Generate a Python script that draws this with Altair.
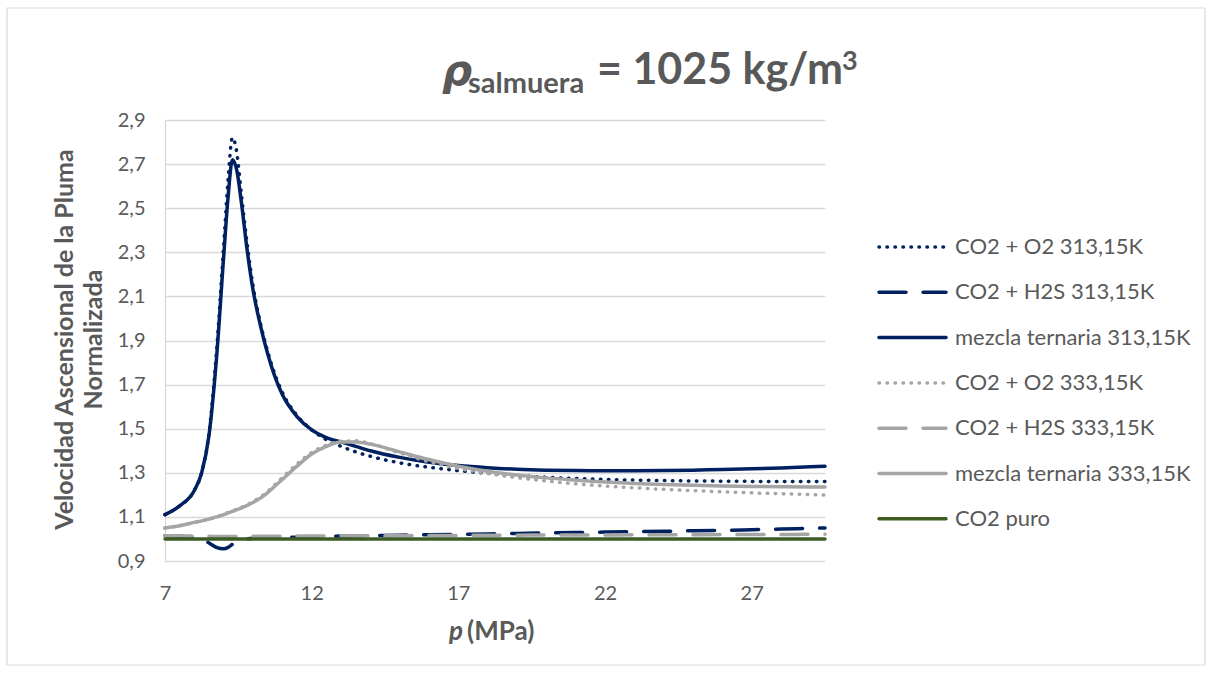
import altair as alt
import pandas as pd

# Pressure grid (MPa) shared by the six mixture curves
PRESSURE = [7.0, 7.5, 8.0, 8.25, 8.5, 8.75, 9.0, 9.15, 9.3, 9.45, 9.6, 9.8, 10.0,
            10.25, 10.5, 10.75, 11.0, 11.5, 12.0, 12.5, 13.0, 13.5, 14.0, 15.0,
            16.0, 17.0, 18.0, 19.0, 20.0, 21.0, 22.0, 23.0, 24.0, 25.0, 26.0,
            27.0, 28.0, 29.0, 29.5]

# Normalized plume rise velocity for each mixture
O2_313 = [1.11, 1.15, 1.22, 1.30, 1.48, 1.84, 2.33, 2.63, 2.82, 2.75, 2.57, 2.34, 2.15,
          1.98, 1.85, 1.745, 1.665, 1.56, 1.495, 1.45, 1.42, 1.395, 1.375, 1.345,
          1.325, 1.31, 1.298, 1.288, 1.28, 1.274, 1.27, 1.267, 1.265, 1.263, 1.262,
          1.261, 1.26, 1.26, 1.26]
H2S_313 = [1.015, 1.012, 1.008, 1.0, 0.982, 0.962, 0.955, 0.962, 0.976, 0.99, 0.998, 1.001, 1.003,
           1.004, 1.005, 1.006, 1.007, 1.008, 1.01, 1.011, 1.013, 1.014, 1.015, 1.017,
           1.019, 1.021, 1.023, 1.025, 1.027, 1.029, 1.031, 1.033, 1.035, 1.037, 1.039,
           1.042, 1.045, 1.048, 1.05]
TERN_313 = [1.11, 1.15, 1.22, 1.30, 1.47, 1.81, 2.28, 2.55, 2.72, 2.67, 2.53, 2.31, 2.13,
            1.97, 1.84, 1.735, 1.655, 1.555, 1.495, 1.46, 1.44, 1.42, 1.40, 1.37,
            1.348, 1.333, 1.323, 1.316, 1.312, 1.31, 1.309, 1.309, 1.31, 1.312, 1.315,
            1.318, 1.322, 1.327, 1.33]
O2_333 = [1.05, 1.06, 1.075, 1.082, 1.09, 1.10, 1.112, 1.12, 1.127, 1.135, 1.143, 1.155, 1.17,
          1.19, 1.216, 1.247, 1.278, 1.34, 1.392, 1.425, 1.443, 1.445, 1.432, 1.39,
          1.35, 1.32, 1.297, 1.278, 1.263, 1.25, 1.24, 1.232, 1.225, 1.219, 1.214,
          1.209, 1.205, 1.201, 1.199]
H2S_333 = [1.015, 1.014, 1.013, 1.012, 1.012, 1.011, 1.011, 1.011, 1.011, 1.011, 1.011, 1.012, 1.012,
           1.012, 1.012, 1.012, 1.013, 1.013, 1.013, 1.014, 1.014, 1.014, 1.015, 1.015,
           1.016, 1.016, 1.017, 1.017, 1.018, 1.018, 1.018, 1.019, 1.019, 1.019, 1.02,
           1.02, 1.02, 1.021, 1.021]
TERN_333 = [1.05, 1.06, 1.075, 1.082, 1.09, 1.10, 1.11, 1.118, 1.125, 1.133, 1.14, 1.152, 1.165,
            1.185, 1.21, 1.24, 1.27, 1.33, 1.385, 1.42, 1.44, 1.44, 1.43, 1.395,
            1.36, 1.33, 1.307, 1.29, 1.277, 1.267, 1.258, 1.252, 1.247, 1.243, 1.24,
            1.238, 1.237, 1.236, 1.236]
# Pure CO2 is the reference (normalized to 1)
PURE_P = [7.0, 29.5]
PURE = [1.0, 1.0]

NAMES = ["CO2 + O2 313,15K", "CO2 + H2S 313,15K", "mezcla ternaria 313,15K",
         "CO2 + O2 333,15K", "CO2 + H2S 333,15K", "mezcla ternaria 333,15K",
         "CO2 puro"]

X_TICKS = [7, 12, 17, 22, 27]
Y_TICKS = [0.9, 1.1, 1.3, 1.5, 1.7, 1.9, 2.1, 2.3, 2.5, 2.7, 2.9]

NAVY = "#002060"
GRAY = "#A5A5A5"
GREEN = "#3D5C24"
TXT = "#595959"
GRID = "#D9D9D9"
FONT = "Lato"

DOT = [0.5, 7.5]
DASH = [27, 17]

# (pressure, values, colour, dash pattern or None, line width)
SERIES = [
    (PRESSURE, O2_313, NAVY, DOT, 3.5),
    (PRESSURE, H2S_313, NAVY, DASH, 3.5),
    (PRESSURE, TERN_313, NAVY, None, 3.5),
    (PRESSURE, O2_333, GRAY, DOT, 3.5),
    (PRESSURE, H2S_333, GRAY, DASH, 3.5),
    (PRESSURE, TERN_333, GRAY, None, 3.5),
    (PURE_P, PURE, GREEN, None, 3.5),
]

W, H = 660, 441
PAD = {"left": 165, "top": 120, "right": 387, "bottom": 112}

x_scale = alt.Scale(domain=[7, 29.5], nice=False, zero=False)
y_scale = alt.Scale(domain=[0.9, 2.9], nice=False, zero=False)

x_axis = alt.Axis(values=X_TICKS, title=None, grid=False, domain=False, ticks=False,
                  labelFont=FONT, labelFontSize=20, labelColor=TXT, labelPadding=22,
                  labelFlush=False)
y_axis = alt.Axis(values=Y_TICKS,
                  labelExpr="replace(format(datum.value, '.1f'), '.', ',')",
                  grid=True, gridColor=GRID, gridWidth=1.3,
                  domain=True, domainColor=GRID, domainWidth=1.3, ticks=False,
                  labelFont=FONT, labelFontSize=20, labelColor=TXT, labelPadding=20,
                  labelFlush=False,
                  title=["Velocidad Ascensional de la Pluma", "Normalizada"],
                  titleFont=FONT, titleFontSize=25, titleFontWeight="bold",
                  titleColor=TXT, titleAngle=270, titleX=-101, titleY=219,
                  titleAlign="center", titleBaseline="middle", titleLineHeight=29)

layers = []

# chart border
layers.append(
    alt.Chart(pd.DataFrame({"k": [0]})).mark_rect(filled=False, stroke=GRID, strokeWidth=1.2)
    .encode(x=alt.value(-158), x2=alt.value(1040), y=alt.value(-112), y2=alt.value(545))
)

for p, v, color, dash, width in SERIES:
    mark_kw = dict(color=color, strokeWidth=width, strokeCap="round",
                   strokeJoin="round", interpolate="monotone")
    if dash is not None:
        mark_kw["strokeDash"] = dash
    df = pd.DataFrame({"p": p, "v": v})
    layers.append(
        alt.Chart(df).mark_line(**mark_kw).encode(
            x=alt.X("p:Q", scale=x_scale, axis=x_axis),
            y=alt.Y("v:Q", scale=y_scale, axis=y_axis),
        )
    )

# legend on the right
LEG_Y0, LEG_STEP = 127, 45.3
for i, (name, (_, _, color, dash, width)) in enumerate(zip(NAMES, SERIES)):
    row = LEG_Y0 + i * LEG_STEP
    rule_kw = dict(color=color, strokeWidth=width, strokeCap="round")
    if dash is not None:
        rule_kw["strokeDash"] = dash
    ldf = pd.DataFrame({"name": [name]})
    layers.append(
        alt.Chart(ldf).mark_rule(**rule_kw)
        .encode(x=alt.value(714), x2=alt.value(781), y=alt.value(row))
    )
    layers.append(
        alt.Chart(ldf).mark_text(align="left", baseline="middle", font=FONT,
                                 fontSize=22, color=TXT)
        .encode(text="name:N", x=alt.value(790), y=alt.value(row))
    )

# title: rho with subscript and a raised exponent
def text_piece(s, x, y, size, font=FONT, style="normal"):
    return alt.Chart(pd.DataFrame({"t": [s]})).mark_text(
        align="left", baseline="alphabetic", font=font, fontSize=size,
        fontWeight="bold", fontStyle=style, color=TXT
    ).encode(text="t:N", x=alt.value(x), y=alt.value(y))

layers.append(text_piece("ρ", 277, -35, 42, font="DejaVu Sans", style="italic"))
layers.append(text_piece("salmuera", 303, -27, 29))
layers.append(text_piece("= 1025 kg/m", 432, -36, 43))
layers.append(text_piece("3", 677, -50, 27))

# x axis title with italic p
layers.append(text_piece("p", 284, 520, 26, style="italic"))
layers.append(text_piece("(MPa)", 302, 520, 26))

chart = alt.layer(*layers).properties(
    width=W, height=H,
    autosize=alt.AutoSizeParams(type="none"),
    padding=PAD,
    background="white",
).configure_view(stroke=None)

chart.save("out.html", embed_options={"renderer": "svg", "actions": False})
